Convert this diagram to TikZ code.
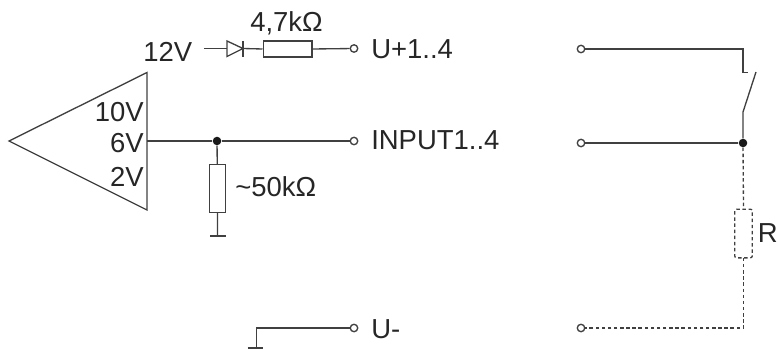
\documentclass[tikz,border=0pt]{standalone}
\usepackage{fontspec}
\setmainfont{Liberation Sans}
\usetikzlibrary{calc}
\definecolor{ink}{HTML}{404040}
\tikzset{
  x=0.75pt,y=-0.75pt,
  wire/.style={draw=ink,line width=1pt,line join=miter},
  thick wire/.style={wire,line width=1.3pt},
  dotwire/.style={draw=ink,line width=1pt,dash pattern=on 2.6pt off 2pt},
  terminal/.style={circle,draw=ink,fill=white,line width=1pt,minimum size=5.6pt,inner sep=0pt},
  junction/.style={circle,fill=black!90,minimum size=6.4pt,inner sep=0pt},
  resv/.style={rectangle,draw=ink,fill=white,line width=1pt,minimum width=12.2pt,minimum height=35.5pt,inner sep=0pt},
  resh/.style={rectangle,draw=ink,fill=white,line width=1pt,minimum width=36.5pt,minimum height=12pt,inner sep=0pt},
  label/.style={inner sep=0pt,anchor=base west,text=black!85,font=\fontsize{20.6pt}{23pt}\selectfont},
  labelr/.style={label,anchor=base east},
}
\begin{document}
\begin{tikzpicture}
\useasboundingbox (0,0) rectangle (778,349);
% comparator triangle
\draw[wire] (147,72.5) coordinate (tt) -- (9,141) coordinate (ta) -- (147,210) coordinate (tb) -- cycle;
\coordinate (tout) at (147,141);
\node[labelr] (l10) at (144,122) {10V};
\node[labelr] (l6) at (144,153) {6V};
\node[labelr] (l2) at (144,186) {2V};
% input
\node[terminal] (tin) at (354,141) {};
\node[junction] (j1) at (217,141) {};
\draw[wire] (tout) -- (j1) -- (tin);
\node[resv] (r50) at (217.5,188.5) {};
\coordinate (g1) at (217.5,236);
\draw[wire] (j1) -- (r50) -- (g1);
\draw[wire,line width=1.4pt] (210,236) -- (225.5,236);
\node[label] (l50) at (235,196) {\char"007E 50k\char"03A9};
\node[label] (linput) at (371,150) {INPUT1..4};
% top
\node[label] (l12) at (143,62) {12V};
\coordinate (s12) at (204,48.5);
\coordinate (da) at (227,48.5);
\coordinate (dk) at (243,48.5);
\node[resh] (r47) at (287.5,49) {};
\node[terminal] (tup) at (354,48.5) {};
\draw[wire] (s12) -- (da);
\draw[wire] (227,41) -- (243,48.5) -- (227,56.5) -- cycle;
\draw[wire] (243,41) -- (243,57);
\draw[wire] (dk) -- (r47.west);
\draw[wire] (r47.east) -- (tup);
\node[label] (l47) at (250,32) {4,7k\char"03A9};
\node[label] (lup) at (371,59) {U+1..4};
% U-
\node[terminal] (tum) at (354,328) {};
\coordinate (gc) at (256.5,328);
\coordinate (g2) at (256.5,348);
\draw[wire] (tum) -- (gc) -- (g2);
\draw[wire,line width=1.4pt] (247.5,348) -- (263,348);
\node[label] (lum) at (371,338) {U-};
% right side
\node[terminal] (ru) at (581,49) {};
\node[terminal] (ri) at (581,143) {};
\node[terminal] (rm) at (581,328) {};
\node[junction] (j2) at (743,143) {};
\coordinate (sa) at (743,49);
\coordinate (sb) at (743,72.5);
\coordinate (sc) at (748,72.5);
\coordinate (sd) at (743,112);
\coordinate (se) at (756,72);
\draw[wire] (ru) -- (sa) -- (sb) -- (sc);
\draw[wire] (j2) -- (sd) -- (se);
\draw[thick wire] (ri) -- (j2);
\node[resv,draw=none,fill=none] (rr) at (743.5,233.5) {};
\draw[dotwire] (j2) -- (rr.north);
\draw[dotwire,rounded corners=1.5pt] (rr.north west) rectangle (rr.south east);
\coordinate (rc) at (743.5,328);
\draw[dotwire] (rr.south) -- (rc) -- (rm);
\node[label] (lr) at (757.5,243) {R};
\end{tikzpicture}
\end{document}
